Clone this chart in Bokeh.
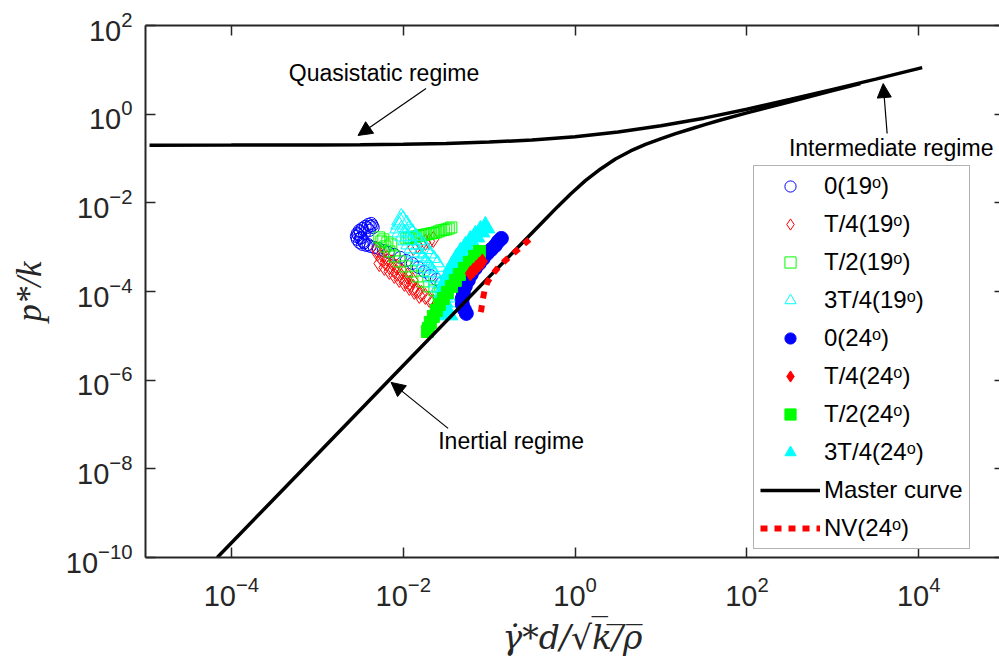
import numpy as np
from bokeh.plotting import figure
from bokeh.models import (LogAxis, FixedTicker, Legend, LegendItem, Arrow,
                          NormalHead, Label, Range1d, CustomJSTickFormatter)
from bokeh.embed import file_html
from bokeh.resources import INLINE

# ---- data (base-10 exponents of shear rate and pressure) ----
# master curve, inertial branch bending into the intermediate regime
inertial_logx = [-4.165, -3.0, -2.0, -1.0, -0.343, -0.2, -0.052, 0.12, 0.297, 0.47,
                 0.646, 0.82, 0.995, 1.17, 1.345, 1.52, 1.694, 2.0, 2.5, 3.0, 3.32]
inertial_logy = [-10.0, -7.67, -5.67, -3.67, -2.363, -2.08, -1.80, -1.50, -1.236, -1.01,
                 -0.83, -0.68, -0.559, -0.44, -0.334, -0.23, -0.131, 0.03, 0.28, 0.53, 0.69]
# master curve, quasistatic plateau rising into the intermediate regime
quasi_logx = [-4.953, -4.0, -3.0, -2.5, -2.0, -1.5, -1.0, -0.5, 0.0, 0.5, 1.0, 1.5,
              2.0, 2.5, 3.0, 3.5, 4.04]
quasi_logy = [-0.699, -0.698, -0.693, -0.688, -0.678, -0.660, -0.63, -0.583, -0.51,
              -0.40, -0.26, -0.09, 0.11, 0.33, 0.56, 0.79, 1.05]

# 19 degree runs (open markers)
c19_0_logx = [-2.372, -2.407, -2.442, -2.477, -2.511, -2.535, -2.546, -2.535, -2.511,
              -2.477, -2.430, -2.383, -2.337, -2.290, -2.232, -2.174, -2.104, -2.034,
              -1.964, -1.894, -1.825, -1.755, -1.685, -1.615, -1.557,
              -2.349, -2.395, -2.453, -2.488, -2.465, -2.360, -2.384, -2.420, -2.500,
              -2.523, -2.500, -2.455, -2.410]
c19_0_logy = [-2.465, -2.487, -2.532, -2.577, -2.622, -2.690, -2.758, -2.825, -2.893,
              -2.938, -2.961, -2.983, -3.006, -3.028, -3.073, -3.118, -3.163, -3.231,
              -3.299, -3.366, -3.457, -3.547, -3.637, -3.727, -3.817,
              -2.559, -2.622, -2.690, -2.780, -2.870, -2.510, -2.530, -2.560, -2.650,
              -2.720, -2.800, -2.900, -2.940]

c19_t4_logx = [-2.300, -2.255, -2.208, -2.162, -2.115, -2.069, -2.023, -1.976, -1.929,
               -1.883, -1.836, -1.790, -1.743, -1.697, -1.650, -1.604,
               -2.279, -2.220, -2.162, -2.104, -2.046, -1.987, -1.929, -1.871, -1.813,
               -1.883, -1.836, -1.790, -1.743, -1.697, -1.650,
               -2.310, -2.250, -2.190, -2.130, -2.070, -2.010, -1.950, -1.890]
c19_t4_logy = [-3.141, -3.254, -3.344, -3.434, -3.502, -3.592, -3.660, -3.750, -3.817,
               -3.908, -3.975, -4.043, -4.111, -4.178, -4.246, -4.291,
               -3.369, -3.457, -3.547, -3.637, -3.727, -3.817, -3.908, -3.998, -4.088,
               -3.006, -2.961, -2.938, -2.893, -2.870, -2.825,
               -3.050, -3.150, -3.250, -3.350, -3.450, -3.550, -3.650, -3.750]

c19_t2_logx = [-1.964, -1.906, -1.848, -1.790, -1.732, -1.673, -1.615, -1.557, -1.499,
               -1.440, -2.279, -2.232, -2.185, -2.139, -2.255, -2.208, -2.162, -2.104,
               -2.046, -1.976, -1.906, -1.836, -1.766, -1.697, -1.638, -1.592,
               -1.935, -1.877, -1.819, -1.761, -1.703, -1.644, -1.586, -1.528, -1.470]
c19_t2_logy = [-2.803, -2.780, -2.758, -2.735, -2.713, -2.690, -2.667, -2.622, -2.600,
               -2.555, -2.780, -2.825, -2.893, -2.938, -2.870, -2.983, -3.096, -3.209,
               -3.321, -3.434, -3.547, -3.660, -3.773, -3.885, -3.975, -4.043,
               -2.790, -2.770, -2.745, -2.725, -2.700, -2.680, -2.645, -2.610, -2.580]

c19_3t4_logx = [-2.023, -2.034, -2.046, -2.023, -1.987, -1.952, -1.917, -1.883, -1.848,
                -1.813, -1.778, -1.743, -1.708, -1.673, -1.638, -1.604, -1.569, -1.534,
                -1.499, -1.464, -2.000, -1.960, -1.930, -1.890, -1.850, -1.800, -1.760,
                -1.720, -1.680, -1.640, -1.600]
c19_3t4_logy = [-2.374, -2.465, -2.555, -2.645, -2.735, -2.825, -2.915, -3.006, -3.096,
                -3.186, -3.276, -3.366, -3.457, -3.547, -3.660, -3.773, -3.885, -3.998,
                -4.111, -4.224, -2.420, -2.520, -2.620, -2.720, -2.820, -2.920, -3.020,
                -3.120, -3.220, -3.320, -3.420]

# 24 degree runs (filled markers)
c24_0_logx = [-0.858, -0.893, -0.928, -0.975, -1.021, -1.068, -1.114, -1.161, -1.208,
              -1.243, -1.278, -1.301, -1.312, -1.312, -1.289, -1.266]
c24_0_logy = [-2.803, -2.870, -2.961, -3.051, -3.141, -3.254, -3.366, -3.479, -3.615,
              -3.750, -3.885, -4.020, -4.156, -4.291, -4.404, -4.494]

c24_t4_logx = [-1.079, -1.114, -1.149, -1.184, -1.219]
c24_t4_logy = [-3.321, -3.389, -3.457, -3.524, -3.592]

c24_t2_logx = [-1.114, -1.172, -1.231, -1.289, -1.347, -1.394, -1.440, -1.487, -1.534,
               -1.580, -1.615, -1.650, -1.685, -1.708, -1.719]
c24_t2_logy = [-3.096, -3.209, -3.344, -3.479, -3.615, -3.750, -3.885, -4.020, -4.156,
               -4.291, -4.426, -4.562, -4.697, -4.833, -4.901]

c24_3t4_logx = [-1.044, -1.102, -1.161, -1.219, -1.277, -1.335, -1.382, -1.428, -1.463,
                -1.498, -1.522, -1.533, -1.533, -1.510, -1.475]
c24_3t4_logy = [-2.555, -2.645, -2.758, -2.870, -3.006, -3.141, -3.276, -3.434, -3.592,
                -3.750, -3.908, -4.065, -4.224, -4.381, -4.516]

# non-local viscous model, 24 degrees
nv_logx = [-0.532, -0.625, -0.718, -0.811, -0.893, -0.963, -1.021, -1.056, -1.079,
           -1.091, -1.114]
nv_logy = [-2.825, -2.983, -3.141, -3.299, -3.457, -3.615, -3.795, -3.998, -4.224,
           -4.404, -4.584]

x_ticks = [1e-4, 1e-2, 1e0, 1e2, 1e4]
y_ticks = [1e-10, 1e-8, 1e-6, 1e-4, 1e-2, 1e0, 1e2]


def pw(a):
    return 10.0 ** np.asarray(a, dtype=float)


INK = "#262626"
SANS = "Liberation Sans"
BLANK = CustomJSTickFormatter(code="return ''")

p = figure(width=999, height=671, x_axis_type="log", y_axis_type="log",
           x_range=Range1d(1e-5, 10 ** 4.94), y_range=Range1d(1e-10, 1e2),
           output_backend="svg", toolbar_location=None,
           min_border_left=145, min_border_right=0, min_border_top=25,
           min_border_bottom=114)
p.grid.visible = False
p.outline_line_color = None
p.background_fill_color = "white"
p.border_fill_color = "white"

for ax, ticks in ((p.xaxis[0], x_ticks), (p.yaxis[0], y_ticks)):
    ax.ticker = FixedTicker(ticks=ticks, minor_ticks=[])
    ax.major_tick_in = 10
    ax.major_tick_out = 0
    ax.minor_tick_in = 0
    ax.minor_tick_out = 0
    ax.axis_line_width = 2
    ax.axis_line_color = INK
    ax.major_tick_line_color = INK
    ax.major_tick_line_width = 1.5
    ax.major_label_text_font = SANS
    ax.major_label_text_font_size = "29px"
    ax.major_label_text_color = INK

p.yaxis[0].major_label_standoff = 13
p.xaxis[0].major_label_standoff = 18

p.yaxis[0].axis_label = "p*/k"
p.yaxis[0].axis_label_text_font = "Liberation Serif"
p.yaxis[0].axis_label_text_font_style = "italic"
p.yaxis[0].axis_label_text_font_size = "35px"
p.yaxis[0].axis_label_text_color = INK
p.yaxis[0].axis_label_standoff = 14

p.xaxis[0].axis_label = "\u03b3\u0307*d/\u221ak\u0305/\u0305\u03c1\u0305"
p.xaxis[0].axis_label_text_font = "DejaVu Serif"
p.xaxis[0].axis_label_text_font_style = "italic"
p.xaxis[0].axis_label_text_font_size = "33px"
p.xaxis[0].axis_label_text_color = INK
p.xaxis[0].axis_label_standoff = 9

# box edges: top with ticks, right with ticks only
top = LogAxis(ticker=FixedTicker(ticks=x_ticks, minor_ticks=[]), formatter=BLANK,
              major_tick_in=10, major_tick_out=0, minor_tick_in=0, minor_tick_out=0,
              major_label_standoff=0,
              axis_line_width=2, axis_line_color=INK,
              major_tick_line_color=INK, major_tick_line_width=1.5)
p.add_layout(top, "above")
right = LogAxis(ticker=FixedTicker(ticks=y_ticks, minor_ticks=[]), formatter=BLANK,
                major_tick_in=5, major_tick_out=0, minor_tick_in=0, minor_tick_out=0,
                major_label_standoff=0,
                axis_line_color=None,
                major_tick_line_color=INK, major_tick_line_width=1.5)
p.add_layout(right, "right")

# open markers, 19 degrees
r_c19_0 = p.scatter(pw(c19_0_logx), pw(c19_0_logy), marker="circle", size=12,
                    fill_color=None, line_color="blue", line_width=1)
r_c19_t4 = p.scatter(pw(c19_t4_logx), pw(c19_t4_logy), marker="diamond", size=16,
                     fill_color=None, line_color="red", line_width=1)
r_c19_t2 = p.scatter(pw(c19_t2_logx), pw(c19_t2_logy), marker="square", size=11,
                     fill_color=None, line_color="lime", line_width=1)
r_c19_3t4 = p.scatter(pw(c19_3t4_logx), pw(c19_3t4_logy), marker="triangle", size=19,
                      fill_color=None, line_color="cyan", line_width=1)

# filled markers, 24 degrees
r_c24_3t4 = p.scatter(pw(c24_3t4_logx), pw(c24_3t4_logy), marker="triangle", size=19,
                      fill_color="cyan", line_color="cyan")
r_c24_0 = p.scatter(pw(c24_0_logx), pw(c24_0_logy), marker="circle", size=14,
                    fill_color="blue", line_color="blue")
r_c24_t2 = p.scatter(pw(c24_t2_logx), pw(c24_t2_logy), marker="square", size=12,
                     fill_color="lime", line_color="lime")
r_c24_t4 = p.scatter(pw(c24_t4_logx), pw(c24_t4_logy), marker="diamond", size=15,
                     fill_color="red", line_color="red")

# master curve
r_master = p.line(pw(inertial_logx), pw(inertial_logy), line_color="black", line_width=3.5)
p.line(pw(quasi_logx), pw(quasi_logy), line_color="black", line_width=3.5)

# NV model
r_nv = p.line(pw(nv_logx), pw(nv_logy), line_color="red", line_width=6, line_dash="7 7")


# regime annotations
def note(text, x, y):
    p.add_layout(Label(x=x, y=y, text=text, text_font=SANS, text_font_size="23px",
                       text_color="black", text_align="center", text_baseline="middle"))


def pointer(x0, y0, x1, y1):
    p.add_layout(Arrow(end=NormalHead(size=14, fill_color="black", line_color="black"),
                       x_start=x0, y_start=y0, x_end=x1, y_end=y1,
                       line_color="black", line_width=1.2))


note("Quasistatic regime", 10 ** -2.224, 10 ** 0.918)
pointer(10 ** -1.735, 10 ** 0.578, 10 ** -2.526, 10 ** -0.48)
note("Intermediate regime", 10 ** 3.679, 10 ** -0.773)
pointer(10 ** 3.632, 10 ** -0.437, 10 ** 3.586, 10 ** 0.69)
note("Inertial regime", 10 ** -0.745, 10 ** -7.38)
pointer(10 ** -1.478, 10 ** -7.088, 10 ** -2.142, 10 ** -6.05)

legend = Legend(items=[
    LegendItem(label="0(19\u1d52)", renderers=[r_c19_0]),
    LegendItem(label="T/4(19\u1d52)", renderers=[r_c19_t4]),
    LegendItem(label="T/2(19\u1d52)", renderers=[r_c19_t2]),
    LegendItem(label="3T/4(19\u1d52)", renderers=[r_c19_3t4]),
    LegendItem(label="0(24\u1d52)", renderers=[r_c24_0]),
    LegendItem(label="T/4(24\u1d52)", renderers=[r_c24_t4]),
    LegendItem(label="T/2(24\u1d52)", renderers=[r_c24_t2]),
    LegendItem(label="3T/4(24\u1d52)", renderers=[r_c24_3t4]),
    LegendItem(label="Master curve", renderers=[r_master]),
    LegendItem(label="NV(24\u1d52)", renderers=[r_nv]),
], location=(608, 8), margin=0, padding=6, spacing=10,
    glyph_width=60, glyph_height=28, label_height=28, label_standoff=4,
    label_text_font=SANS, label_text_font_size="24px", label_text_color="black",
    border_line_color="#666666", border_line_width=1,
    background_fill_color="white", background_fill_alpha=1.0)
p.add_layout(legend)

open("out.html", "w").write(file_html(p, INLINE))
